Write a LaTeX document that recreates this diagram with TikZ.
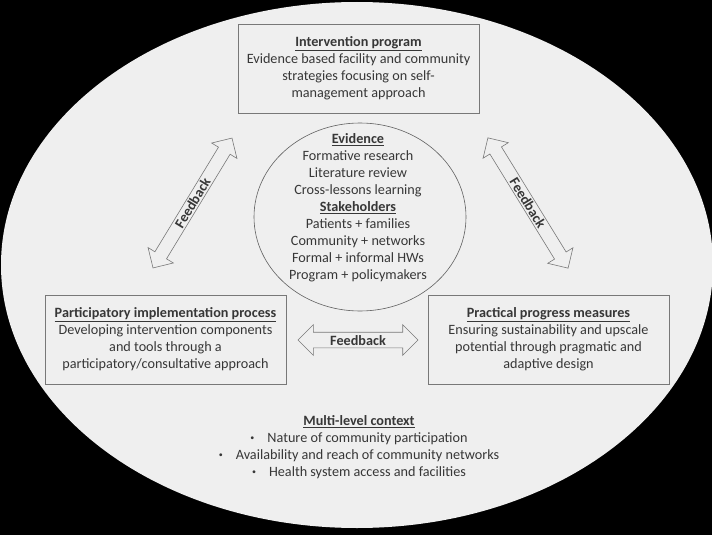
\documentclass[tikz,border=0pt]{standalone}
\usepackage{fontspec}
\setmainfont{Carlito}
\usetikzlibrary{shapes.arrows,shapes.geometric}
\definecolor{bgfill}{RGB}{239,239,239}
\definecolor{txt}{RGB}{55,55,55}
\definecolor{edge}{RGB}{120,120,120}
\newcommand{\smallbul}{\raisebox{2pt}{\fontsize{8}{8}\selectfont\textbullet}\hspace{13pt}}
\begin{document}
\begin{tikzpicture}[x=1pt,y=-1pt,
  every node/.style={text=txt, font=\fontsize{14.2}{17}\selectfont},
  box/.style={draw=edge, line width=0.9pt, fill=bgfill, minimum width=241pt, minimum height=89pt, inner sep=0pt, align=center},
  fb/.style={double arrow, draw=edge, line width=0.6pt, fill=bgfill, double arrow head extend=8pt, double arrow tip angle=90, inner xsep=0pt, inner ysep=1.5pt, text height=10pt, text depth=0pt, font=\fontsize{14.2}{17}\selectfont\bfseries}
]
\fill[black] (0,0) rectangle (712,535);
\useasboundingbox (0,0) rectangle (712,535);
\fill[bgfill] (357,265) ellipse [x radius=356, y radius=263];

% boxes
\node[box] (top) at (358.5,68.5) {\textbf{\underline{Intervention program}}\\Evidence based facility and community\\strategies focusing on self-\\management approach};
\node[box] (left) at (165.5,339.5) {\textbf{\underline{Participatory implementation process}}\\Developing intervention components\\and tools through a\\participatory/consultative approach};
\node[box] (right) at (548.5,339.5) {\textbf{\underline{Practical progress measures}}\\Ensuring sustainability and upscale\\potential through pragmatic and\\adaptive design};

% central ellipse
\node[ellipse, draw=edge!80!black, line width=0.6pt, minimum width=212pt, minimum height=188pt, inner sep=0pt] (evid) at (360,217) {};
\node[align=center, inner sep=0pt] (evtext) at (358,208) {\textbf{\underline{Evidence}}\\Formative research\\Literature review\\Cross-lessons learning\\\textbf{\underline{Stakeholders}}\\Patients + families\\Community + networks\\Formal + informal HWs\\Program + policymakers};

% feedback arrows
\node[fb, minimum height=152pt, rotate=58.7] (fbl) at (192.5,203) {Feedback};
\node[fb, minimum height=153pt, rotate=-58.4] (fbr) at (528,203) {Feedback};
\node[fb, minimum height=120pt, inner ysep=2.5pt, double arrow head extend=7.5pt] (fbh) at (358,340) {Feedback};

% context
\node[align=center, inner sep=0pt] (ctx) at (359,447.5) {\textbf{\underline{Multi-level context}}\\\smallbul Nature of community participation\\\smallbul Availability and reach of community networks\\\smallbul Health system access and facilities};
\end{tikzpicture}
\end{document}
